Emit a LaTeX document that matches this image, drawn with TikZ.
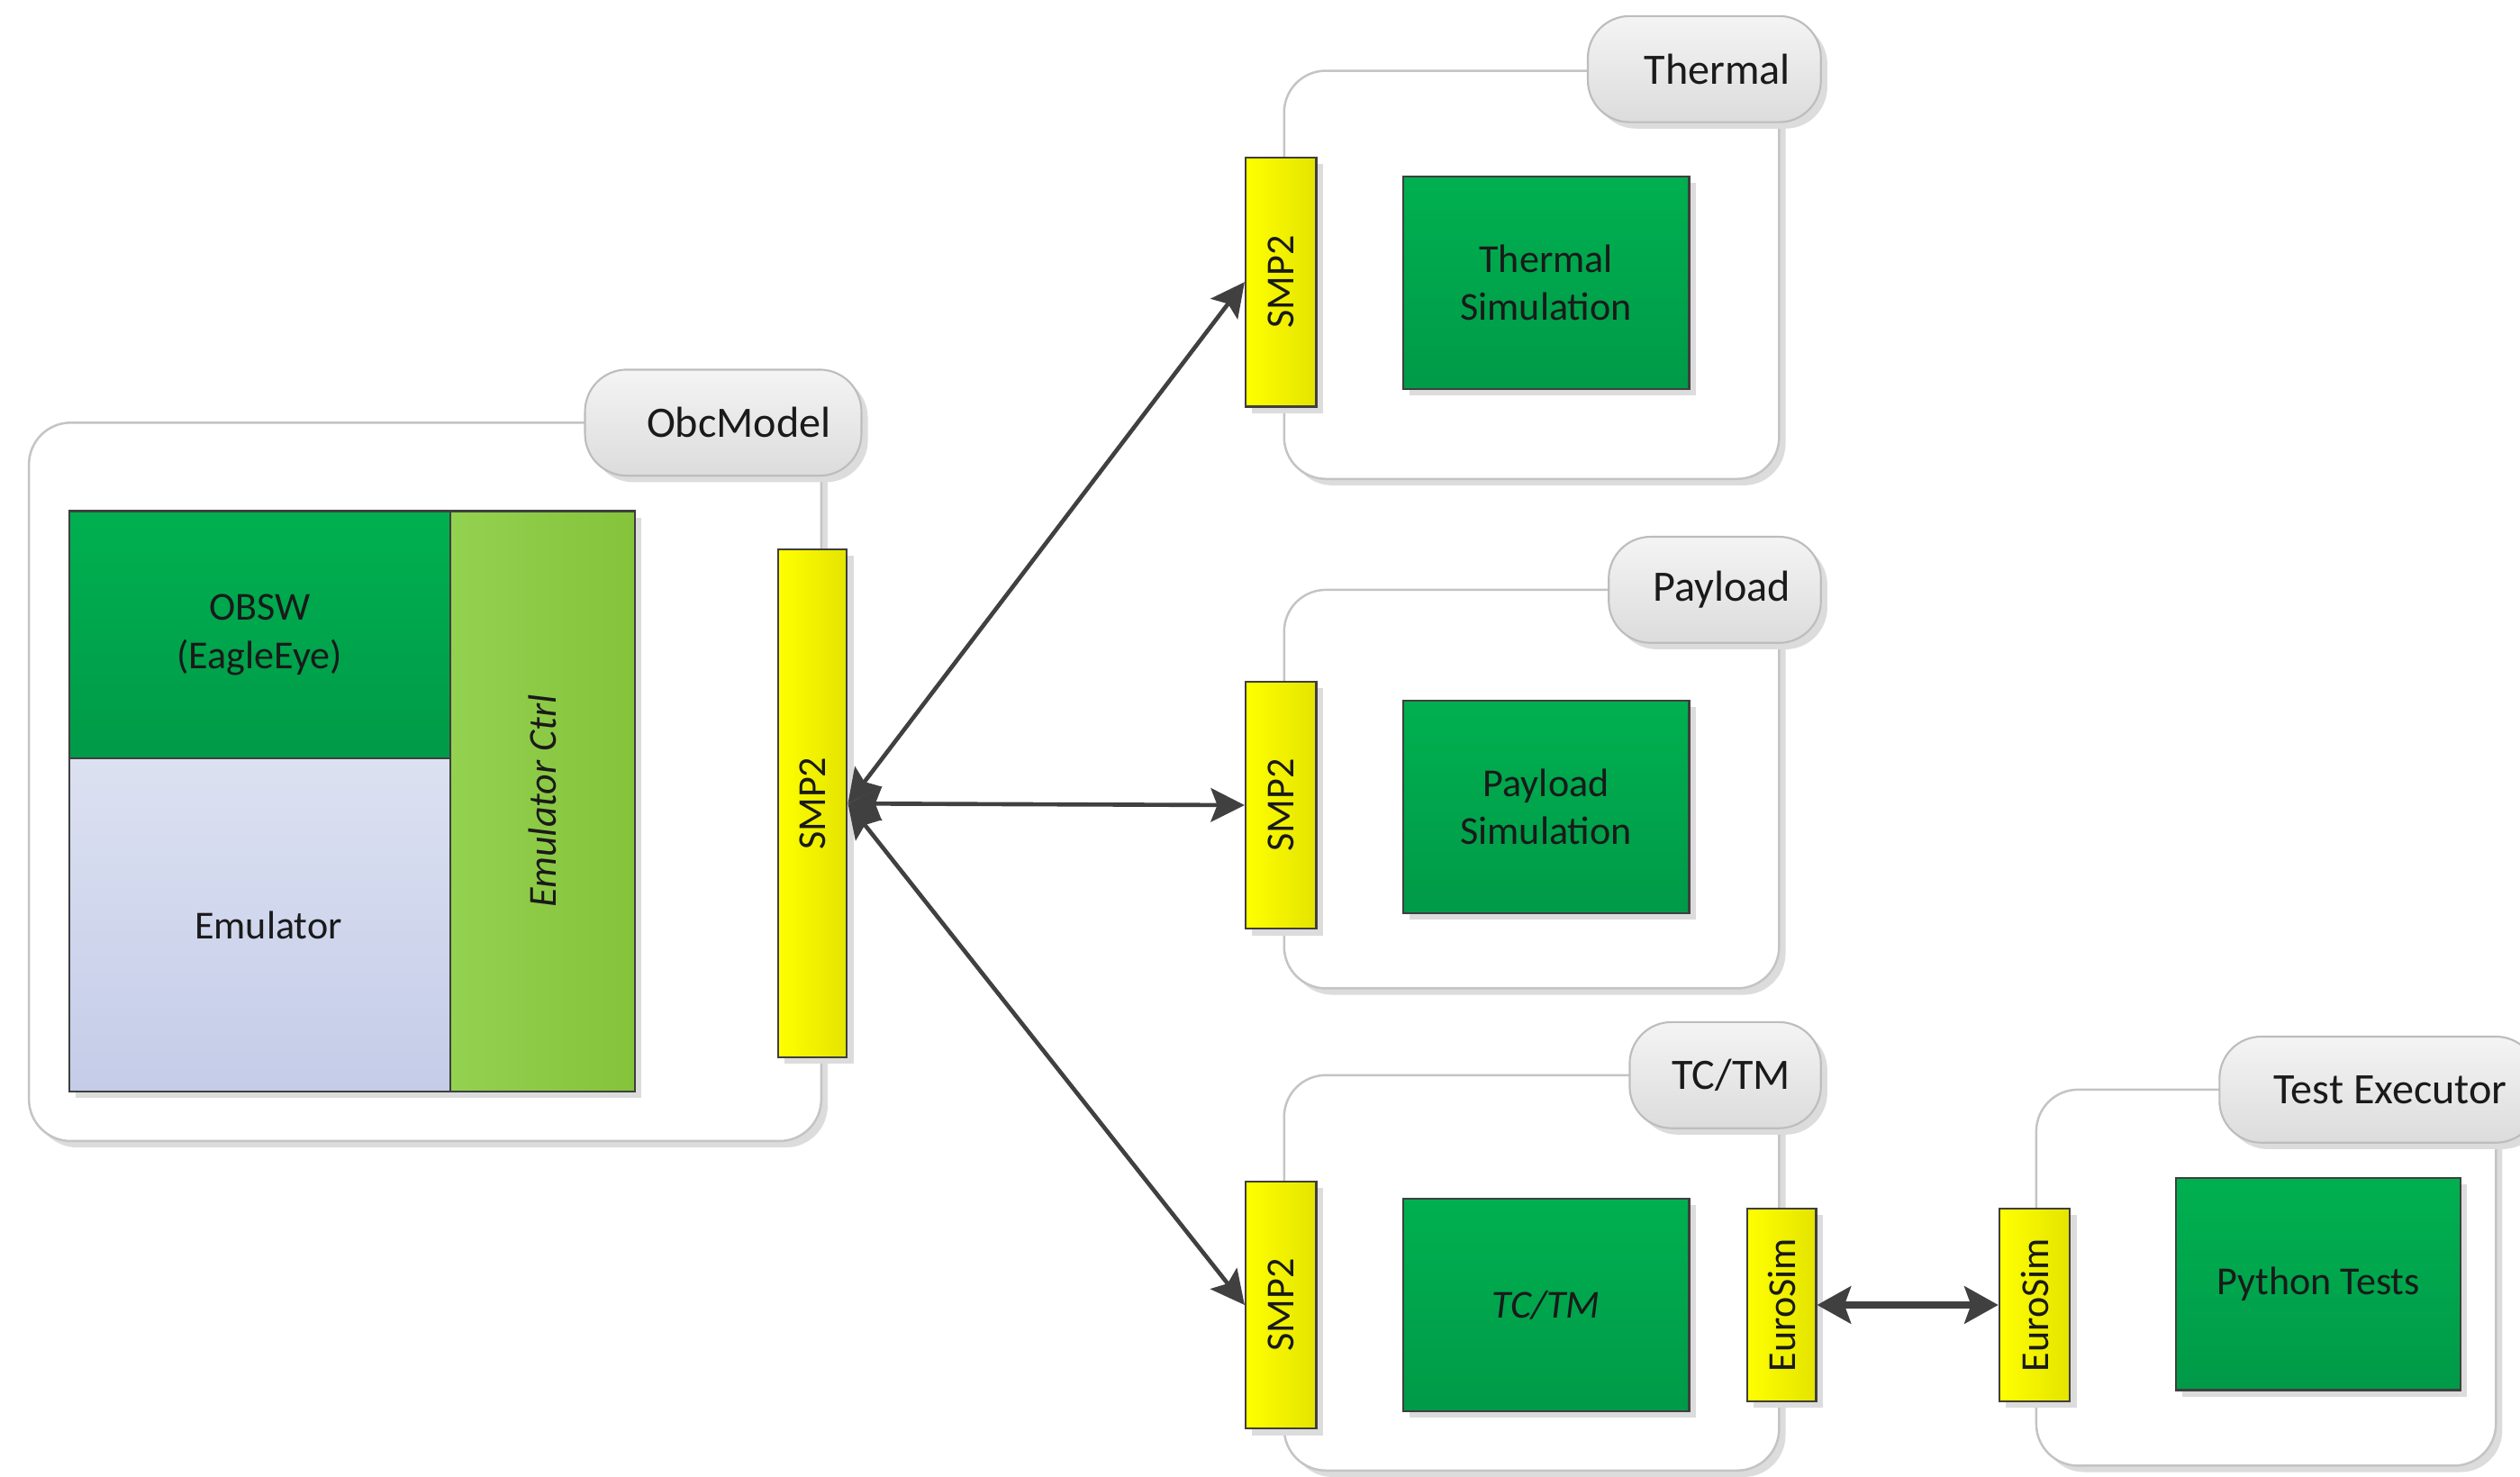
\documentclass[tikz,border=0pt]{standalone}
\usepackage{fontspec}
\usepackage{graphicx}
\setmainfont{Carlito}
\usetikzlibrary{arrows.meta,shadows}

\definecolor{framegray}{HTML}{C4C4C4}
\definecolor{tabline}{HTML}{BDBDBD}
\definecolor{tabtop}{HTML}{F4F4F4}
\definecolor{tabbot}{HTML}{DCDCDC}
\definecolor{gtop}{HTML}{00B050}
\definecolor{gbot}{HTML}{009A48}
\definecolor{emtop}{HTML}{DCE1F1}
\definecolor{embot}{HTML}{C4CCE8}
\definecolor{ctrlL}{HTML}{93D150}
\definecolor{ctrlR}{HTML}{85C33B}
\definecolor{yelL}{HTML}{FFFF00}
\definecolor{yelR}{HTML}{E4E400}
\definecolor{boxline}{HTML}{3F3F3F}
\definecolor{arrowgray}{HTML}{404040}
\definecolor{shadowgray}{HTML}{DCDCDC}
\definecolor{txt}{HTML}{1A1A1A}

\newcommand\tablbl{\fontsize{27}{32}\selectfont}
\newcommand\boxlbl{\fontsize{24.7}{30}\selectfont}

\tikzset{
  softshadow/.style={drop shadow={shadow xshift=4pt, shadow yshift=-4pt, fill=shadowgray, opacity=1}},
  frame/.style={draw=framegray, line width=1.4pt, rounded corners=26pt, fill=white, inner sep=0pt, softshadow},
  tab/.style={draw=tabline, line width=1.2pt, rounded corners=26pt, top color=tabtop, bottom color=tabbot,
    font=\tablbl, text=txt, align=flush right, inner xsep=19pt, inner ysep=0pt, minimum height=66pt, softshadow},
  blk/.style={draw=boxline, line width=1.2pt, inner sep=0pt, align=center, font=\boxlbl, text=txt, softshadow},
  green/.style={blk, top color=gtop, bottom color=gbot},
  port/.style={blk, left color=yelL, right color=yelR},
  conn/.style={draw=arrowgray, line width=2.6pt,
    arrows={Stealth[length=21pt,width=21pt,inset=4pt]-Stealth[length=21pt,width=21pt,inset=4pt]}},
  thickconn/.style={draw=arrowgray, line width=4.8pt,
    arrows={Stealth[length=21pt,width=23pt,inset=4pt]-Stealth[length=21pt,width=23pt,inset=4pt]}}
}

\begin{document}
\begin{tikzpicture}[x=1pt,y=-1pt]
\useasboundingbox (0,0) rectangle (1568,919);

% group frames
\node[frame, minimum width=493pt, minimum height=447pt] (obcframe) at (264.5,486.5) {};
\node[frame, minimum width=308pt, minimum height=254pt] (thframe) at (953,171) {};
\node[frame, minimum width=308pt, minimum height=248pt] (plframe) at (953,491) {};
\node[frame, minimum width=308pt, minimum height=246pt] (tcframe) at (953,792) {};
\node[frame, minimum width=286pt, minimum height=234pt] (teframe) at (1410,795) {};

% group title tabs
\node[tab, minimum width=172pt, text width=134pt] (obctab) at (450,263) {ObcModel};
\node[tab, minimum width=145pt, text width=107pt] (thtab) at (1060.5,43) {Thermal};
\node[tab, minimum width=132pt, text width=94pt] (pltab) at (1067,367) {Payload};
\node[tab, minimum width=119pt, text width=81pt] (tctab) at (1073.5,669) {TC/TM};
\node[tab, minimum width=198pt, text width=160pt] (tetab) at (1480,678) {Test Executor};

% on-board computer model
\node[green, minimum width=237pt, minimum height=154pt] (obsw) at (161.5,395) {OBSW\\(EagleEye)};
\node[blk, top color=emtop, bottom color=embot, minimum width=237pt, minimum height=207pt] (emu) at (161.5,575.5) {\hspace*{11pt}Emulator};
\node[blk, left color=ctrlL, right color=ctrlR, minimum width=115pt, minimum height=361pt] (ctrl) at (337.5,498.5) {\rotatebox{90}{\itshape Emulator Ctrl}};
\node[port, minimum width=43pt, minimum height=316pt] (obcsmp) at (505.5,500) {\rotatebox{90}{SMP2}};

% thermal model
\node[port, minimum width=44pt, minimum height=155pt] (thsmp) at (797,175.5) {\rotatebox{90}{SMP2}};
\node[green, minimum width=178pt, minimum height=132pt] (thsim) at (962,176) {Thermal\\Simulation};

% payload model
\node[port, minimum width=44pt, minimum height=154pt] (plsmp) at (797,501) {\rotatebox{90}{SMP2}};
\node[green, minimum width=178pt, minimum height=132pt] (plsim) at (962,502) {Payload\\Simulation};

% telecommand / telemetry model
\node[port, minimum width=44pt, minimum height=154pt] (tcsmp) at (797,812) {\rotatebox{90}{SMP2}};
\node[green, minimum width=178pt, minimum height=132pt] (tcbox) at (962,812) {\itshape TC/TM};
\node[port, minimum width=43pt, minimum height=120pt] (tceuro) at (1108.5,812) {\rotatebox{90}{EuroSim}};

% test executor
\node[port, minimum width=44pt, minimum height=120pt] (teeuro) at (1266,812) {\rotatebox{90}{EuroSim}};
\node[green, minimum width=177pt, minimum height=132pt] (pytests) at (1442.5,799) {Python Tests};

% connections
\draw[conn] (obcsmp.east) -- (thsmp.west);
\draw[conn] (obcsmp.east) -- (plsmp.west);
\draw[conn] (obcsmp.east) -- (tcsmp.west);
\draw[thickconn] (tceuro.east) -- (teeuro.west);
\end{tikzpicture}
\end{document}
